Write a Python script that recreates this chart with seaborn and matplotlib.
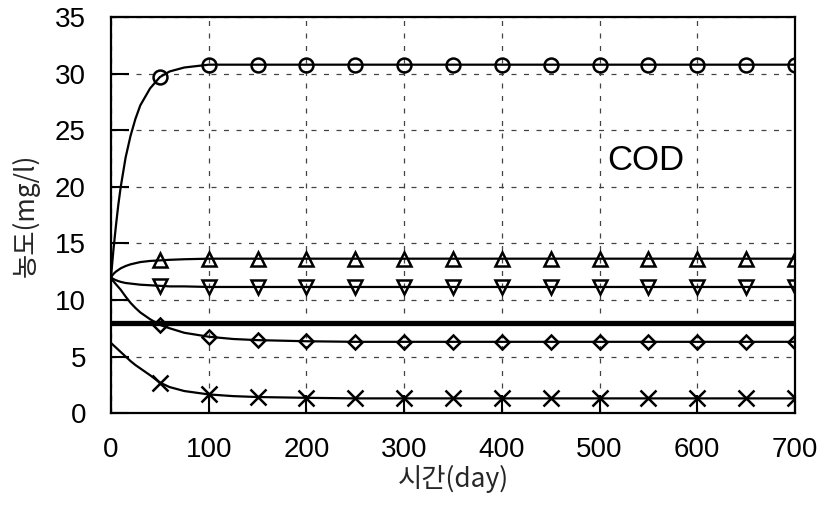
import numpy as np
import pandas as pd
import matplotlib
matplotlib.use("Agg")
import matplotlib.pyplot as plt
import seaborn as sns

# time points (day)
time = [0, 2.5, 5, 7.5, 10, 15, 20, 25, 30, 40, 50, 60, 75, 100, 125, 150, 200, 250,
        300, 350, 400, 450, 500, 550, 600, 650, 700]

circle = [12.0, 14.4, 16.5, 18.4, 20.0, 22.6, 24.5, 26.0, 27.2, 28.7, 29.7, 30.2, 30.55, 30.8,
          30.8, 30.8, 30.8, 30.8, 30.8, 30.8, 30.8, 30.8, 30.8, 30.8, 30.8, 30.8, 30.8]
tri_up = [12.0, 12.3, 12.5, 12.65, 12.8, 13.0, 13.15, 13.25, 13.35, 13.45, 13.5, 13.55, 13.6,
          13.65, 13.65, 13.65, 13.65, 13.65, 13.65, 13.65, 13.65, 13.65, 13.65, 13.65, 13.65,
          13.65, 13.65]
tri_down = [12.0, 11.85, 11.75, 11.67, 11.6, 11.5, 11.45, 11.4, 11.35, 11.3, 11.25, 11.2, 11.2,
            11.15, 11.15, 11.15, 11.15, 11.15, 11.15, 11.15, 11.15, 11.15, 11.15, 11.15, 11.15,
            11.15, 11.15]
constant = [8.0] * len(time)
diamond = [11.9, 11.65, 11.4, 11.15, 10.9, 10.3, 9.75, 9.3, 8.9, 8.3, 7.8, 7.5, 7.1, 6.75,
           6.55, 6.45, 6.35, 6.3, 6.3, 6.3, 6.3, 6.3, 6.3, 6.3, 6.3, 6.3, 6.3]
cross = [6.2, 6.0, 5.8, 5.6, 5.4, 5.0, 4.6, 4.25, 3.95, 3.35, 2.7, 2.3, 1.95, 1.65, 1.5, 1.42,
         1.35, 1.3, 1.3, 1.3, 1.3, 1.3, 1.3, 1.3, 1.3, 1.3, 1.3]

x_ticks = [0, 100, 200, 300, 400, 500, 600, 700]
y_ticks = [0, 5, 10, 15, 20, 25, 30, 35]
x_label = "시간(day)"
y_label = "농도(mg/l)"
annotation = "COD"

sns.set_theme(style="white")
plt.rcParams['font.family'] = ['Liberation Sans', 'Noto Sans CJK KR', 'DejaVu Sans']

fig = plt.figure(figsize=(8.25, 5.05), dpi=100)
ax = fig.add_axes([0.1345, 0.182, 0.8291, 0.784])

df = pd.DataFrame({"t": time, "circle": circle, "tri_up": tri_up, "tri_down": tri_down,
                   "constant": constant, "diamond": diamond, "cross": cross})
marker_idx = [i for i, t in enumerate(time) if t > 0 and t % 50 == 0]

series = [("circle", "o", 10), ("tri_up", "^", 10), ("tri_down", "v", 10),
          ("diamond", "D", 7), ("cross", "x", 11)]
for name, mk, ms in series:
    sns.lineplot(data=df, x="t", y=name, ax=ax, color="black", linewidth=1.6,
                 marker=mk, markersize=ms, markevery=marker_idx, fillstyle="none",
                 markeredgewidth=1.8, markeredgecolor="black")
sns.lineplot(data=df, x="t", y="constant", ax=ax, color="black", linewidth=3.8)

ax.set_xlim(0, 700)
ax.set_ylim(0, 35)
ax.set_xticks(x_ticks)
ax.set_yticks(y_ticks)
ax.grid(True, color="#444444", linestyle=(0, (4, 6)), linewidth=0.9)
for s in ax.spines.values():
    s.set_visible(True)
    s.set_color("black")
    s.set_linewidth(1.6)
ax.tick_params(axis="both", direction="in", length=13, width=1.5, colors="black",
               labelsize=20, bottom=True, left=True, top=False, right=False)
ax.tick_params(axis="x", pad=17)
ax.tick_params(axis="y", pad=18)
ax.set_xlabel(x_label, fontsize=19, family=['Noto Sans CJK KR', 'DejaVu Sans'], labelpad=2)
ax.set_ylabel(y_label, fontsize=19, family=['Noto Sans CJK KR', 'DejaVu Sans'], labelpad=11)
ax.text(508, 22.3, annotation, fontsize=25, ha="left", va="center", color="black")

fig.savefig("out.png", dpi=100)
